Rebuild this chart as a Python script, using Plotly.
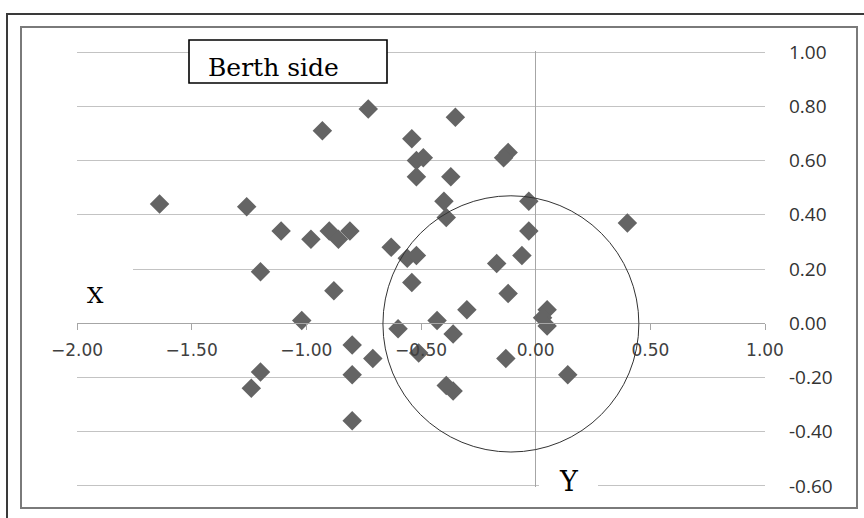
import plotly.graph_objects as go

# ---- data ----
x_vals = [-1.64, -1.26, -1.11, -0.98, -0.90, -0.86, -0.81, -0.63, -0.73, -0.93,
          -0.54, -0.52, -0.49, -0.52, -0.35, -0.37, -0.40, -0.39, -0.12, -0.14,
          -0.03, -0.03, -0.06, 0.40, -0.56, -0.52, -0.17, -0.54, -0.12, -0.30,
          -0.43, -0.60, -0.36, -0.51, -0.13, 0.05, 0.03, 0.05, 0.14, -0.39,
          -0.36, -1.20, -0.88, -1.02, -0.80, -0.71, -1.20, -1.24, -0.80, -0.80]
y_vals = [0.44, 0.43, 0.34, 0.31, 0.34, 0.31, 0.34, 0.28, 0.79, 0.71,
          0.68, 0.60, 0.61, 0.54, 0.76, 0.54, 0.45, 0.39, 0.63, 0.61,
          0.45, 0.34, 0.25, 0.37, 0.24, 0.25, 0.22, 0.15, 0.11, 0.05,
          0.01, -0.02, -0.04, -0.11, -0.13, 0.05, 0.02, -0.01, -0.19, -0.23,
          -0.25, 0.19, 0.12, 0.01, -0.08, -0.13, -0.18, -0.24, -0.19, -0.36]

x_tickvals = [-2.0, -1.5, -1.0, -0.5, 0.0, 0.5, 1.0]
x_ticktext = ["\u22122.00", "\u22121.50", "\u22121.00", "\u22120.50", "0.00", "0.50", "1.00"]
y_tickvals = [1.0, 0.8, 0.6, 0.4, 0.2, 0.0, -0.2, -0.4, -0.6]
y_ticktext = ["1.00", "0.80", "0.60", "0.40", "0.20", "0.00", "-0.20", "-0.40", "-0.60"]

title_text = "Berth side"
x_label = "X"
y_label = "Y"

# circle (data coordinates)
circle = dict(x0=-0.666, x1=0.45, y0=-0.475, y1=0.47)

# ---- layout geometry ----
W, H = 864, 518
L, R, T, B = 77, 765, 51, 487
PW, PH = R - L, B - T
EPS = 0.004
Y_RANGE = [-0.6 - EPS, 1.0 + EPS]


def px(x):
    return (x - L) / PW


def py(y):
    return (B - y) / PH


fig = go.Figure()
fig.add_trace(go.Scatter(
    x=x_vals, y=y_vals, mode="markers",
    marker=dict(symbol="diamond", size=15, color="#646464", line=dict(width=0)),
    showlegend=False, hoverinfo="x+y",
))

shapes = []
# outer frame
shapes.append(dict(type="rect", xref="paper", yref="paper",
                   x0=px(7), x1=px(880), y0=py(14), y1=py(540),
                   line=dict(color="#3a3a3a", width=2), fillcolor="rgba(0,0,0,0)", layer="above"))
# inner frame
shapes.append(dict(type="rect", xref="paper", yref="paper",
                   x0=px(21), x1=px(857), y0=py(27), y1=py(508),
                   line=dict(color="#7a7a7a", width=2), fillcolor="rgba(0,0,0,0)", layer="above"))
# circle
shapes.append(dict(type="circle", xref="x", yref="y", **circle,
                   line=dict(color="#333333", width=1), fillcolor="rgba(0,0,0,0)", layer="above"))
# white boxes behind axis-name labels
shapes.append(dict(type="rect", xref="paper", yref="paper",
                   x0=px(56), x1=px(133), y0=py(316), y1=py(262),
                   line=dict(width=0), fillcolor="white", layer="above"))
shapes.append(dict(type="rect", xref="paper", yref="paper",
                   x0=px(539), x1=px(598), y0=py(504), y1=py(463),
                   line=dict(width=0), fillcolor="white", layer="above"))
# title box
shapes.append(dict(type="rect", xref="paper", yref="paper",
                   x0=px(189), x1=px(387), y0=py(83), y1=py(40),
                   line=dict(color="black", width=1.6), fillcolor="white", layer="above"))

annotations = [
    dict(text=title_text, xref="paper", yref="paper", x=px(273), y=py(67),
         xanchor="center", yanchor="middle", showarrow=False,
         font=dict(family="DejaVu Serif", size=25, color="black")),
    dict(text=x_label, xref="paper", yref="paper", x=px(95), y=py(295),
         xanchor="center", yanchor="middle", showarrow=False,
         font=dict(family="DejaVu Serif", size=23, color="black")),
    dict(text=y_label, xref="paper", yref="paper", x=px(569), y=py(481),
         xanchor="center", yanchor="middle", showarrow=False,
         font=dict(family="DejaVu Serif", size=27, color="black")),
]

fig.update_layout(
    width=W, height=H, autosize=False,
    margin=dict(l=L, r=W - R, t=T, b=H - B, pad=0),
    paper_bgcolor="white", plot_bgcolor="white",
    shapes=shapes, annotations=annotations,
    xaxis=dict(range=[-2.0, 1.0], tickvals=x_tickvals, ticktext=x_ticktext,
               anchor="free", position=(0 - Y_RANGE[0]) / (Y_RANGE[1] - Y_RANGE[0]),
               showgrid=False, zeroline=True, zerolinecolor="#a6a6a6", zerolinewidth=1.3,
               showline=True, linecolor="#a6a6a6", linewidth=1.3,
               ticks="outside", ticklen=6, tickcolor="#a6a6a6", tickwidth=1.3,
               tickfont=dict(family="DejaVu Sans", size=17, color="#404040"),
               ticklabelstandoff=5, fixedrange=True),
    yaxis=dict(range=Y_RANGE, tickvals=y_tickvals, ticktext=y_ticktext,
               side="right", showgrid=True, gridcolor="#c3c3c3", gridwidth=1.3,
               zeroline=False, showline=False, ticks="",
               tickfont=dict(family="Open Sans", size=19, color="#333333"),
               ticklabelstandoff=23, fixedrange=True),
)

fig.write_html("out.html")
